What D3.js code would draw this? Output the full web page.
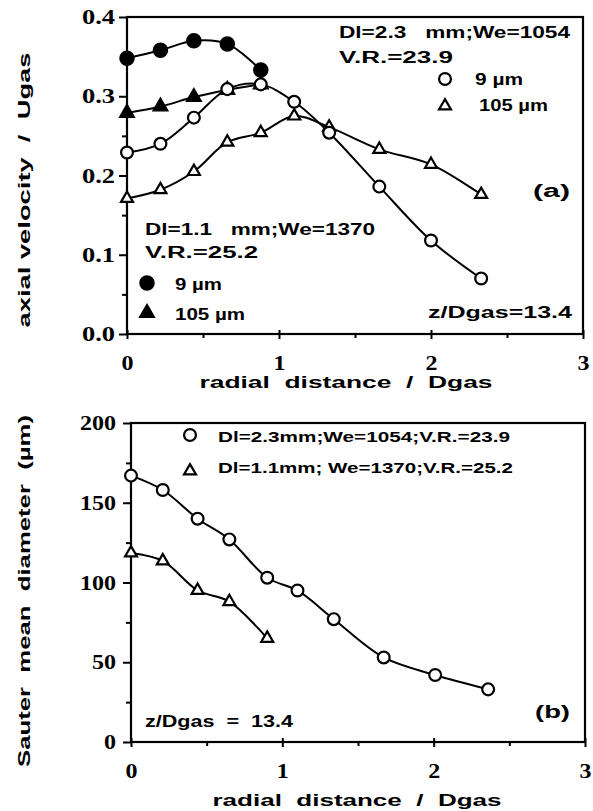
<!DOCTYPE html>
<html>
<head>
<meta charset="utf-8">
<script src="https://cdn.jsdelivr.net/npm/d3@7"></script>
<style>
  body { margin: 0; background: #fff; }
  .lbl { font-family: "Liberation Sans", Arial, sans-serif; font-weight: bold; fill: #000; white-space: pre; }
</style>
</head>
<body>
<div id="container"></div>
<script>
// ---- data (a): axial velocity / Ugas ----
var radialSmall = [0, 0.22, 0.44, 0.66, 0.88];
var radialLarge = [0, 0.22, 0.44, 0.66, 0.88, 1.1, 1.33, 1.66, 2.0, 2.33];
var vel11_9um   = [0.348, 0.358, 0.370, 0.366, 0.333];
var vel11_105um = [0.279, 0.287, 0.299, 0.308, 0.315];
var vel23_9um   = [0.229, 0.240, 0.273, 0.309, 0.315, 0.293, 0.254, 0.186, 0.118, 0.070];
var vel23_105um = [0.171, 0.182, 0.205, 0.242, 0.254, 0.275, 0.261, 0.233, 0.214, 0.176];

// ---- data (b): Sauter mean diameter ----
var radialB_small = [0, 0.21, 0.44, 0.65, 0.9];
var radialB_large = [0, 0.21, 0.44, 0.65, 0.9, 1.1, 1.34, 1.67, 2.01, 2.36];
var smd11 = [118.5, 113.5, 95, 88, 65];
var smd23 = [167, 158, 140, 127, 103, 95, 77, 53, 42, 33];

// ticks
var radialTicks = [0, 1, 2, 3];
var radialMinor = [0.5, 1.5, 2.5];
var velTicks = [0, 0.1, 0.2, 0.3, 0.4];
var velMinor = [0.05, 0.15, 0.25, 0.35];
var smdTicks = [0, 50, 100, 150, 200];
var smdMinor = [25, 75, 125, 175];

var w = 593, h = 811;
var svg = d3.select("#container").append("svg")
  .attr("width", w)
  .attr("height", h);

function zip(xs, ys) {
  return xs.map(function (x, i) { return [x, ys[i]]; });
}

function styleAxis(sel) {
  sel.attr("font-size", 21).attr("font-family", "'Liberation Serif', 'Times New Roman', serif");
  sel.select(".domain").remove();
  sel.selectAll(".tick line").attr("stroke", "#000").attr("stroke-width", 2);
  sel.selectAll(".tick text")
    .attr("fill", "#000")
    .attr("font-weight", "bold")
    .attr("lengthAdjust", "spacingAndGlyphs")
    .attr("textLength", function () {
      // wide old-print digits
      var s = this.textContent;
      return s.replace(/\./g, "").length * 12 + (s.split(".").length - 1) * 9;
    });
}

function drawFrame(x, y, yTicks, yMinor, yFmt, yPad, xPad) {
  var g = svg.append("g");
  var r = x.range(), d = y.range();

  // y minor
  g.append("g").attr("transform", "translate(" + r[0] + ",0)")
    .call(d3.axisLeft(y).tickValues(yMinor).tickSize(5).tickFormat(""))
    .call(styleAxis);
  // y major
  g.append("g").attr("transform", "translate(" + r[0] + ",0)")
    .call(d3.axisLeft(y).tickValues(yTicks).tickSize(8).tickPadding(yPad).tickFormat(yFmt))
    .call(styleAxis);

  // x minor
  var xm = g.append("g").attr("transform", "translate(0," + d[0] + ")")
    .call(d3.axisBottom(x).tickValues(radialMinor).tickSize(4).tickFormat(""))
    .call(styleAxis);
  xm.selectAll(".tick line").attr("y1", -1);
  // x major
  var xa = g.append("g").attr("transform", "translate(0," + d[0] + ")")
    .call(d3.axisBottom(x).tickValues(radialTicks).tickSize(5).tickPadding(xPad).tickFormat(d3.format("d")))
    .call(styleAxis);
  xa.selectAll(".tick line").attr("y1", -4);

  g.append("rect")
    .attr("x", r[0]).attr("y", d[1])
    .attr("width", r[1] - r[0]).attr("height", d[0] - d[1])
    .attr("fill", "none").attr("stroke", "#000").attr("stroke-width", 2.2);
}

var line = d3.line().curve(d3.curveCatmullRom.alpha(0.5));

function drawSeries(x, y, pts) {
  svg.append("path")
    .datum(pts.map(function (p) { return [x(p[0]), y(p[1])]; }))
    .attr("d", line)
    .attr("fill", "none")
    .attr("stroke", "#000")
    .attr("stroke-width", 2);
}

function marker(shape, filled) {
  if (shape === "circle") return d3.symbol(d3.symbolCircle, filled ? 140 : 110)();
  return d3.symbol(d3.symbolTriangle, filled ? 80 : 62)();
}

function drawMarkers(x, y, pts, shape, filled) {
  svg.append("g").selectAll("path")
    .data(pts)
    .enter()
    .append("path")
    .attr("transform", function (p) { return "translate(" + x(p[0]) + "," + y(p[1]) + ")"; })
    .attr("d", marker(shape, filled))
    .attr("fill", filled ? "#000" : "#fff")
    .attr("stroke", "#000")
    .attr("stroke-width", 2.2);
}

function legendMark(cx, cy, shape, filled) {
  svg.append("path")
    .attr("transform", "translate(" + cx + "," + cy + ")")
    .attr("d", marker(shape, filled))
    .attr("fill", filled ? "#000" : "#fff")
    .attr("stroke", "#000")
    .attr("stroke-width", 2.2);
}

function label(txt, x, y, size, len, rotate) {
  var t = svg.append("text")
    .attr("class", "lbl")
    .attr("font-size", size)
    .attr("xml:space", "preserve")
    .text(txt);
  if (rotate) {
    t.attr("transform", "translate(" + x + "," + y + ") rotate(-90)").attr("text-anchor", "middle");
  } else {
    t.attr("x", x).attr("y", y);
  }
  if (len) t.attr("textLength", len).attr("lengthAdjust", "spacingAndGlyphs");
  return t;
}

// ---------------- panel (a) ----------------
var xA = d3.scaleLinear().domain([0, 3]).range([127, 583]);
var yA = d3.scaleLinear().domain([0, 0.4]).range([334, 17]);

drawFrame(xA, yA, velTicks, velMinor, d3.format(".1f"), 4, 16);

drawSeries(xA, yA, zip(radialSmall, vel11_9um));
drawSeries(xA, yA, zip(radialSmall, vel11_105um));
drawSeries(xA, yA, zip(radialLarge, vel23_9um));
drawSeries(xA, yA, zip(radialLarge, vel23_105um));
drawMarkers(xA, yA, zip(radialSmall, vel11_9um), "circle", true);
drawMarkers(xA, yA, zip(radialSmall, vel11_105um), "triangle", true);
drawMarkers(xA, yA, zip(radialLarge, vel23_105um), "triangle", false);
drawMarkers(xA, yA, zip(radialLarge, vel23_9um), "circle", false);

label("Dl=2.3   mm;We=1054", 339, 38, 16, 231);
label("V.R.=23.9", 339, 63, 16, 114);
legendMark(445, 79, "circle", false);
label("9 \u00b5m", 475, 85, 16, 48);
legendMark(445, 106, "triangle", false);
label("105 \u00b5m", 479, 111, 16, 69);
label("(a)", 533, 197, 18, 37);

label("Dl=1.1   mm;We=1370", 145, 235, 16, 230);
label("V.R.=25.2", 145, 258, 16, 113);
legendMark(147, 283, "circle", true);
label("9 \u00b5m", 175, 290, 16, 47);
legendMark(147, 313, "triangle", true);
label("105 \u00b5m", 175, 320, 16, 70);
label("z/Dgas=13.4", 428, 318, 16, 144);

label("axial velocity  /  Ugas", 30, 190, 17, 275, true);
label("radial  distance  /  Dgas", 346, 388, 17, 293).attr("text-anchor", "middle");

// ---------------- panel (b) ----------------
var xB = d3.scaleLinear().domain([0, 3]).range([131, 585]);
var yB = d3.scaleLinear().domain([0, 200]).range([742, 423]);

drawFrame(xB, yB, smdTicks, smdMinor, d3.format("d"), 7, 16);

drawSeries(xB, yB, zip(radialB_large, smd23));
drawSeries(xB, yB, zip(radialB_small, smd11));
drawMarkers(xB, yB, zip(radialB_large, smd23), "circle", false);
drawMarkers(xB, yB, zip(radialB_small, smd11), "triangle", false);

legendMark(190, 435, "circle", false);
label("Dl=2.3mm;We=1054;V.R.=23.9", 218, 442, 15, 292);
legendMark(190, 471, "triangle", false);
label("Dl=1.1mm; We=1370;V.R.=25.2", 218, 473, 15, 295);
label("z/Dgas  =  13.4", 145, 727, 16, 148);
label("(b)", 535, 718, 18, 35);

label("Sauter  mean  diameter  (\u00b5m)", 30, 591, 17, 352, true);
label("radial  distance  /  Dgas", 357, 806, 17, 289).attr("text-anchor", "middle");
</script>
</body>
</html>
